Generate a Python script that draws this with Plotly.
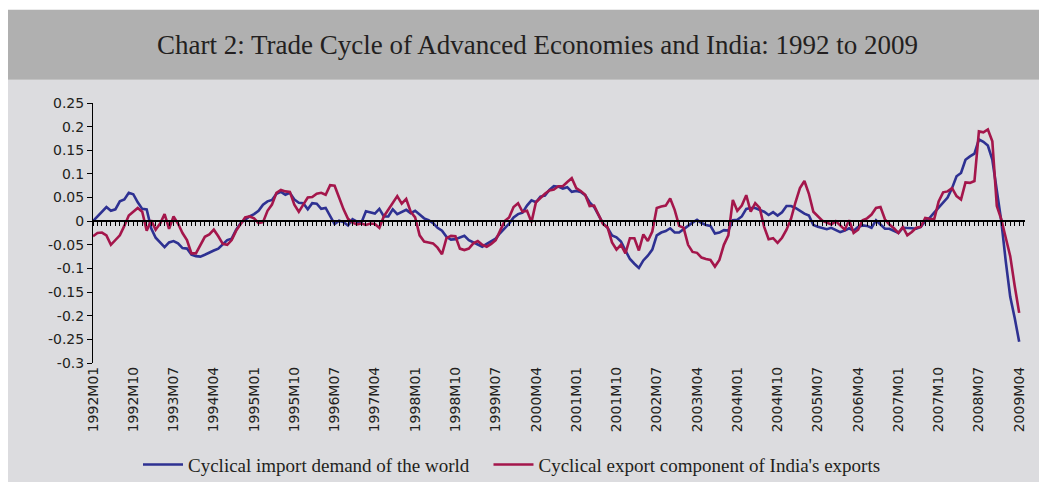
import plotly.graph_objects as go

# ---------------- data ----------------
years = list(range(1992, 2010))
months = [f"{y}M{m:02d}" for y in years for m in range(1, 13)][:208]   # 1992M01 .. 2009M04
tick_labels = months[::9]

import_demand = [
    0.000, 0.010, 0.020, 0.030, 0.022, 0.025, 0.042, 0.046, 0.060, 0.057, 0.040, 0.026,      # 1992
    0.025, -0.015, -0.035, -0.045, -0.055, -0.045, -0.042, -0.047, -0.057, -0.058, -0.071, -0.074,  # 1993
    -0.075, -0.071, -0.066, -0.062, -0.058, -0.048, -0.040, -0.037, -0.018, -0.004, 0.004, 0.010,   # 1994
    0.015, 0.022, 0.035, 0.042, 0.045, 0.058, 0.062, 0.056, 0.060, 0.046, 0.039, 0.038,      # 1995
    0.025, 0.038, 0.037, 0.026, 0.028, 0.010, -0.006, 0.001, -0.002, -0.009, 0.004, -0.001,  # 1996
    -0.003, 0.021, 0.019, 0.016, 0.026, 0.010, 0.010, 0.025, 0.015, 0.019, 0.024, 0.017,     # 1997
    0.022, 0.014, 0.006, 0.002, -0.004, -0.014, -0.020, -0.033, -0.039, -0.038, -0.035, -0.031,  # 1998
    -0.040, -0.045, -0.050, -0.054, -0.048, -0.043, -0.037, -0.025, -0.016, -0.005, 0.008, 0.015,  # 1999
    0.018, 0.033, 0.044, 0.040, 0.052, 0.054, 0.066, 0.074, 0.073, 0.069, 0.072, 0.062,      # 2000
    0.064, 0.062, 0.055, 0.040, 0.030, 0.012, -0.005, -0.014, -0.030, -0.034, -0.043, -0.062,  # 2001
    -0.080, -0.090, -0.099, -0.083, -0.073, -0.060, -0.030, -0.024, -0.021, -0.015, -0.024, -0.024,  # 2002
    -0.016, -0.010, -0.003, 0.003, -0.004, -0.008, -0.010, -0.026, -0.024, -0.019, -0.020, 0.002,  # 2003
    0.003, 0.010, 0.026, 0.028, 0.028, 0.024, 0.020, 0.013, 0.019, 0.012, 0.019, 0.032,      # 2004
    0.032, 0.028, 0.022, 0.016, 0.012, -0.008, -0.012, -0.015, -0.017, -0.014, -0.018, -0.023,  # 2005
    -0.020, -0.015, -0.020, -0.012, -0.009, -0.010, -0.014, 0.002, -0.007, -0.016, -0.016, -0.020,  # 2006
    -0.025, -0.014, -0.014, -0.015, -0.016, -0.012, 0.000, 0.007, 0.018, 0.028, 0.038, 0.050,  # 2007
    0.070, 0.095, 0.102, 0.130, 0.137, 0.143, 0.173, 0.168, 0.160, 0.130, 0.065, 0.000,      # 2008
    -0.085, -0.160, -0.205, -0.255,                                                          # 2009
]

export_component = [
    -0.032, -0.025, -0.024, -0.030, -0.050, -0.040, -0.030, -0.010, 0.012, 0.020, 0.028, 0.020,  # 1992
    -0.020, 0.002, -0.018, -0.005, 0.015, -0.016, 0.010, -0.005, -0.025, -0.040, -0.068, -0.068,  # 1993
    -0.050, -0.033, -0.028, -0.018, -0.032, -0.048, -0.050, -0.040, -0.020, -0.005, 0.008, 0.010,  # 1994
    0.006, -0.004, -0.002, 0.022, 0.035, 0.060, 0.066, 0.063, 0.062, 0.035, 0.020, 0.035,    # 1995
    0.050, 0.051, 0.058, 0.060, 0.056, 0.076, 0.075, 0.050, 0.025, 0.005, -0.003, -0.007,    # 1996
    -0.005, -0.008, -0.005, -0.006, -0.014, 0.010, 0.025, 0.040, 0.053, 0.037, 0.047, 0.020,  # 1997
    0.008, -0.030, -0.043, -0.045, -0.047, -0.056, -0.070, -0.036, -0.031, -0.032, -0.058, -0.061,  # 1998
    -0.058, -0.047, -0.042, -0.050, -0.054, -0.048, -0.040, -0.020, 0.000, 0.008, 0.030, 0.038,  # 1999
    0.020, 0.022, -0.002, 0.040, 0.050, 0.058, 0.065, 0.067, 0.074, 0.074, 0.083, 0.091,     # 2000
    0.070, 0.064, 0.056, 0.032, 0.033, 0.014, -0.006, -0.013, -0.045, -0.060, -0.050, -0.068,  # 2001
    -0.036, -0.036, -0.062, -0.028, -0.042, -0.022, 0.028, 0.031, 0.033, 0.048, 0.024, -0.010,  # 2002
    -0.014, -0.050, -0.065, -0.067, -0.077, -0.080, -0.082, -0.096, -0.082, -0.050, -0.030, 0.045,  # 2003
    0.022, 0.033, 0.055, 0.020, 0.038, 0.028, -0.012, -0.038, -0.036, -0.046, -0.035, -0.018,  # 2004
    0.005, 0.040, 0.070, 0.085, 0.058, 0.020, 0.010, 0.001, -0.003, -0.007, 0.000, -0.010,   # 2005
    -0.018, 0.002, -0.025, -0.018, 0.002, 0.006, 0.014, 0.028, 0.030, 0.004, -0.007, -0.015,  # 2006
    -0.025, -0.012, -0.030, -0.023, -0.014, -0.012, 0.007, 0.005, 0.004, 0.042, 0.061, 0.063,  # 2007
    0.070, 0.053, 0.046, 0.082, 0.081, 0.085, 0.190, 0.188, 0.194, 0.169, 0.032, 0.004,     # 2008
    -0.032, -0.074, -0.137, -0.194,                                                          # 2009
]

y_tickvals = [0.25, 0.2, 0.15, 0.1, 0.05, 0, -0.05, -0.1, -0.15, -0.2, -0.25, -0.3]
y_ticktext = ["0.25", "0.2", "0.15", "0.1", "0.05", "0", "-0.05", "-0.1", "-0.15", "-0.2", "-0.25", "-0.3"]

title_text = "Chart 2: Trade Cycle of Advanced Economies and India: 1992 to 2009"
name_world = "Cyclical import demand of the world"
name_india = "Cyclical export component of India's exports"

# ---------------- layout geometry (figure sits inside the page's 8px body margin) ----------------
OFF = 8
W, H = 1047 - OFF, 482 - OFF
L = 93 - OFF
R = W - (1025 - OFF)
T = 103.3 - OFF
B = H - (363.3 - OFF)
PW, PH = W - L - R, H - T - B
Y_MIN, Y_MAX = -0.3, 0.25
X_MAX = len(months) + 0.3


def px(page_x):
    return (page_x - OFF - L) / PW


def py(page_y):
    return (H - B - (page_y - OFF)) / PH


BLUE = "#2e3192"
RED = "#a4164b"
TXT = "#231f20"
GAP = "\u00a0" * 3   # extra spacing between the two legend entries

fig = go.Figure()
fig.add_trace(go.Scatter(x=months, y=import_demand, mode="lines", name=name_world + GAP,
                         line=dict(color=BLUE, width=2.6)))
fig.add_trace(go.Scatter(x=months, y=export_component, mode="lines", name=name_india,
                         line=dict(color=RED, width=2.6)))
# helper trace so the zero-line axis (monthly ticks) is drawn
fig.add_trace(go.Scatter(x=list(range(len(months))), y=[None] * len(months), xaxis="x2",
                         mode="lines", showlegend=False, hoverinfo="skip"))

fig.update_layout(
    width=W, height=H,
    margin=dict(l=L, r=R, t=T, b=B, autoexpand=False),
    paper_bgcolor="#dcdcdf",
    plot_bgcolor="rgba(0,0,0,0)",
    showlegend=True,
    xaxis=dict(
        type="category", range=[0, X_MAX],
        tickmode="array", tickvals=tick_labels, ticktext=tick_labels,
        tickangle=-90, ticks="", showline=False, showgrid=False, zeroline=False,
        tickfont=dict(family="DejaVu Sans", size=14, color=TXT),
    ),
    xaxis2=dict(
        overlaying="x", anchor="free", position=(0 - Y_MIN) / (Y_MAX - Y_MIN), side="bottom",
        range=[0, X_MAX], tickmode="linear", tick0=0, dtick=1,
        ticks="outside", ticklen=4, tickwidth=1, tickcolor="black",
        showline=True, linecolor="black", linewidth=1.5,
        showticklabels=False, showgrid=False, zeroline=False,
    ),
    yaxis=dict(
        range=[Y_MIN, Y_MAX], tickmode="array", tickvals=y_tickvals, ticktext=y_ticktext,
        showline=True, linecolor="black", linewidth=1, ticks="outside", ticklen=5,
        tickcolor="black", showgrid=False, zeroline=False,
        tickfont=dict(family="DejaVu Sans", size=14, color=TXT),
    ),
    legend=dict(
        orientation="h", x=px(512), xanchor="center", y=py(465), yanchor="middle",
        bgcolor="rgba(0,0,0,0)", font=dict(family="Liberation Serif", size=19, color=TXT),
        itemwidth=40,
    ),
    shapes=[
        dict(type="rect", xref="paper", yref="paper", x0=px(0), x1=px(1100), y0=py(80), y1=py(0),
             fillcolor="white", line=dict(width=0), layer="below"),
        dict(type="rect", xref="paper", yref="paper", x0=px(8), x1=px(1100), y0=py(80), y1=py(10),
             fillcolor="#b0b0b0", line=dict(width=0), layer="below"),
    ],
    annotations=[
        dict(text=title_text, xref="paper", yref="paper", x=px(537), y=py(45),
             xanchor="center", yanchor="middle", showarrow=False,
             font=dict(family="Liberation Serif", size=27, color=TXT)),
    ],
)

fig.write_html("out.html")
